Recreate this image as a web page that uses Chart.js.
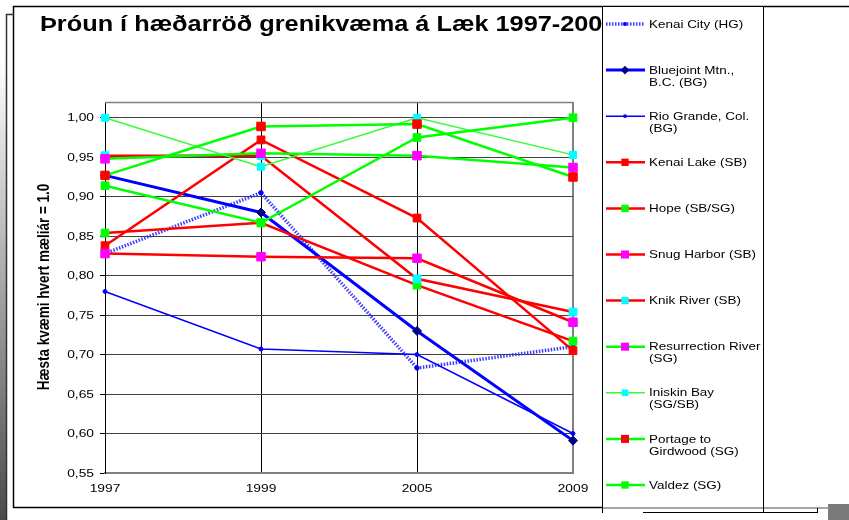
<!DOCTYPE html>
<html>
<head>
<meta charset="utf-8">
<script src="https://cdn.jsdelivr.net/npm/chart.js@4.4.1/dist/chart.umd.min.js"></script>
<style>
  html, body { margin: 0; padding: 0; background: #fff; }
  #wrap { position: relative; width: 849px; height: 520px; }
</style>
</head>
<body>
<div id="wrap"><canvas id="chart" width="849" height="520"></canvas></div>
<script>
// --- data ---
const years = ['1997', '1999', '2005', '2009'];

const kenaiCity    = [0.828, 0.905, 0.683, 0.710];
const bluejoint    = [0.927, 0.880, 0.730, 0.591];
const rioGrande    = [0.780, 0.707, 0.700, 0.600];
const kenaiLake    = [0.838, 0.972, 0.873, 0.705];
const hope         = [0.854, 0.867, 0.788, 0.717];
const snugHarbor   = [0.828, 0.824, 0.822, 0.741];
const knikRiver    = [0.952, 0.952, 0.796, 0.754];
const resurrection = [0.948, 0.955, 0.952, 0.937];
const iniskin      = [1.000, 0.938, 1.000, 0.953];
const portage      = [0.927, 0.989, 0.992, 0.925];
const valdez       = [0.914, 0.867, 0.975, 1.000];

const seriesNames = [
    'Kenai City (HG)',
    'Bluejoint Mtn.,\nB.C. (BG)',
    'Rio Grande, Col.\n(BG)',
    'Kenai Lake (SB)',
    'Hope (SB/SG)',
    'Snug Harbor (SB)',
    'Knik River (SB)',
    'Resurrection River\n(SG)',
    'Iniskin Bay\n(SG/SB)',
    'Portage to\nGirdwood (SG)',
    'Valdez (SG)'
];

const yTicks = [0.55, 0.60, 0.65, 0.70, 0.75, 0.80, 0.85, 0.90, 0.95, 1.00];

const chartTitle = 'Þróun í hæðarröð grenikvæma á Læk 1997-2009';
const yTitle = 'Hæsta kvæmi hvert mæliár = 1.0';

const FONT = "'Liberation Sans', Arial, sans-serif";
const STRETCH = 1.17; // the picture is a bit wide, so text is too

function makeSet(i, data, line, width, pStyle, pColor, radius, dash) {
    return {
        label: seriesNames[i],
        data: data,
        borderColor: line,
        borderWidth: width,
        borderDash: dash || [],
        pointStyle: pStyle,
        pointRadius: radius,
        pointBackgroundColor: pColor,
        pointBorderColor: pColor,
        pointBorderWidth: 1,
        tension: 0,
        clip: false,
        order: -i   // later series drawn on top, like the original
    };
}

const datasets = [
    makeSet(0, kenaiCity,    'rgba(40,40,255,0.9)', 3.5, 'circle',  '#0000ff', 2.2, [1.5, 1.5]),
    makeSet(1, bluejoint,    '#0000ff', 3,   'rectRot', '#000080', 4.5),
    makeSet(2, rioGrande,    '#0000ff', 1.5, 'circle',  '#0000ff', 2),
    makeSet(3, kenaiLake,    '#ff0000', 2.5, 'rect',    '#ff0000', 5.5),
    makeSet(4, hope,         '#ff0000', 2.5, 'rect',    '#00ff00', 5.5),
    makeSet(5, snugHarbor,   '#ff0000', 2.5, 'rect',    '#ff00ff', 6),
    makeSet(6, knikRiver,    '#ff0000', 2.5, 'rect',    '#00ffff', 5.5),
    makeSet(7, resurrection, '#00ff00', 2.5, 'rect',    '#ff00ff', 6),
    makeSet(8, iniskin,      '#33ff33', 1.5, 'rect',    '#00ffff', 5),
    makeSet(9, portage,      '#00ff00', 2.5, 'rect',    '#ff0000', 6),
    makeSet(10, valdez,      '#00ff00', 2.5, 'rect',    '#00ff00', 5.5)
];

function stretchText(ctx, text, x, y, sx, align) {
    ctx.save();
    ctx.translate(x, y);
    ctx.scale(sx, 1);
    ctx.textAlign = align;
    ctx.fillText(text, 0, 0);
    ctx.restore();
}

function hline(ctx, x1, x2, y, color, w) {
    ctx.strokeStyle = color; ctx.lineWidth = w;
    ctx.beginPath(); ctx.moveTo(x1, y); ctx.lineTo(x2, y); ctx.stroke();
}
function vline(ctx, x, y1, y2, color, w) {
    ctx.strokeStyle = color; ctx.lineWidth = w;
    ctx.beginPath(); ctx.moveTo(x, y1); ctx.lineTo(x, y2); ctx.stroke();
}

function drawMarker(ctx, style, x, y, r, color) {
    ctx.fillStyle = color;
    ctx.beginPath();
    if (style === 'rect') {
        const s = r * Math.SQRT1_2;
        ctx.rect(x - s, y - s, 2 * s, 2 * s);
    } else if (style === 'rectRot') {
        ctx.moveTo(x, y - r); ctx.lineTo(x + r, y); ctx.lineTo(x, y + r); ctx.lineTo(x - r, y);
        ctx.closePath();
    } else {
        ctx.arc(x, y, r, 0, Math.PI * 2);
    }
    ctx.fill();
}

// frames, background bits and the title (under the legend box)
const backdrop = {
    id: 'backdrop',
    beforeDraw(chart) {
        const ctx = chart.ctx;
        ctx.save();
        ctx.fillStyle = '#fff';
        ctx.fillRect(0, 0, chart.width, chart.height);

        const g = ctx.createLinearGradient(0, 60, 0, 520);
        g.addColorStop(0, '#ffffff');
        g.addColorStop(1, '#4a4a4a');
        ctx.fillStyle = g;
        ctx.fillRect(0, 60, 6, 460);
        ctx.fillStyle = '#7a7a7a';
        ctx.fillRect(828, 504, 21, 16);

        // outer frame + shadow
        hline(ctx, 13, 849, 6.5, '#000', 1.5);
        vline(ctx, 13.5, 6, 508, '#000', 1.5);
        hline(ctx, 13, 602, 507.5, '#000', 1.5);
        hline(ctx, 602, 830, 508, '#888', 1.5);
        vline(ctx, 6.5, 14, 520, '#333', 1.5);
        hline(ctx, 6, 14, 14.5, '#333', 1.5);
        hline(ctx, 643, 817, 512.5, '#000', 1);
        vline(ctx, 817.5, 508, 513, '#000', 1);

        // title
        ctx.fillStyle = '#000';
        ctx.font = 'bold 22px ' + FONT;
        ctx.textBaseline = 'alphabetic';
        stretchText(ctx, chartTitle, 40, 31, 1.15, 'left');

        // y axis title
        ctx.font = 'bold 13.5px ' + FONT;
        ctx.textBaseline = 'middle';
        ctx.save();
        ctx.translate(45, 287);
        ctx.scale(STRETCH, 1);
        ctx.rotate(-Math.PI / 2);
        ctx.textAlign = 'center';
        ctx.fillText(yTitle, 0, 0);
        ctx.restore();
        ctx.restore();
    },
    beforeDatasetsDraw(chart) {
        const ctx = chart.ctx, a = chart.chartArea;
        ctx.save();
        hline(ctx, a.left, a.right, a.top + 0.5, '#808080', 1.5);
        ctx.restore();
    },
    afterDraw(chart) {
        const ctx = chart.ctx;
        const xs = chart.scales.x, ys = chart.scales.y;
        ctx.save();
        ctx.fillStyle = '#000';
        ctx.font = '11.5px ' + FONT;
        ctx.textBaseline = 'middle';
        yTicks.forEach(v => {
            stretchText(ctx, v.toFixed(2).replace('.', ','), 94, ys.getPixelForValue(v) + 0.5, 1.2, 'right');
        });
        years.forEach((y, i) => {
            stretchText(ctx, y, xs.getPixelForValue(i), 489, 1.2, 'center');
        });

        // legend box (covers the end of the title like the original)
        ctx.fillStyle = '#fff';
        ctx.fillRect(603, 7, 160, 500);
        vline(ctx, 602.5, 6, 513, '#000', 1);
        vline(ctx, 763.5, 6, 513, '#000', 1);

        chart.data.datasets.forEach((ds, i) => {
            const yc = 24 + i * 46.1;
            ctx.save();
            ctx.strokeStyle = ds.borderColor;
            ctx.lineWidth = ds.borderWidth;
            ctx.setLineDash(ds.borderDash || []);
            ctx.beginPath(); ctx.moveTo(606, yc); ctx.lineTo(645, yc); ctx.stroke();
            ctx.restore();
            drawMarker(ctx, ds.pointStyle, 625, yc, ds.pointRadius * 0.95, ds.pointBackgroundColor);
            ctx.fillStyle = '#000';
            ctx.font = '11.5px ' + FONT;
            ctx.textBaseline = 'middle';
            ds.label.split('\n').forEach((t, k) => {
                stretchText(ctx, t, 649, yc + 0.5 + k * 12, STRETCH, 'left');
            });
        });
        ctx.restore();
    }
};

new Chart(document.getElementById('chart'), {
    type: 'line',
    data: { labels: years, datasets: datasets },
    options: {
        responsive: false,
        animation: false,
        layout: { padding: { top: 102, right: 276, left: 0, bottom: 0 } },
        plugins: {
            legend: { display: false },
            title: { display: false },
            tooltip: { enabled: false }
        },
        scales: {
            x: {
                offset: false,
                grid: {
                    color: c => c.index === 3 ? '#808080' : '#000',
                    lineWidth: c => c.index === 3 ? 2 : 1,
                    drawTicks: false
                },
                border: { display: true, color: '#808080', width: 2 },
                ticks: { display: false },
                afterFit(s) { s.height = 47; }
            },
            y: {
                min: 0.55,
                max: 1.02,
                afterBuildTicks(s) { s.ticks = yTicks.map(v => ({ value: v })); },
                grid: { color: '#404040', tickColor: '#000', tickLength: 5 },
                border: { display: true, color: '#000', width: 1 },
                ticks: { display: false },
                afterFit(s) { s.width = 105; }
            }
        }
    },
    plugins: [backdrop]
});
</script>
</body>
</html>
